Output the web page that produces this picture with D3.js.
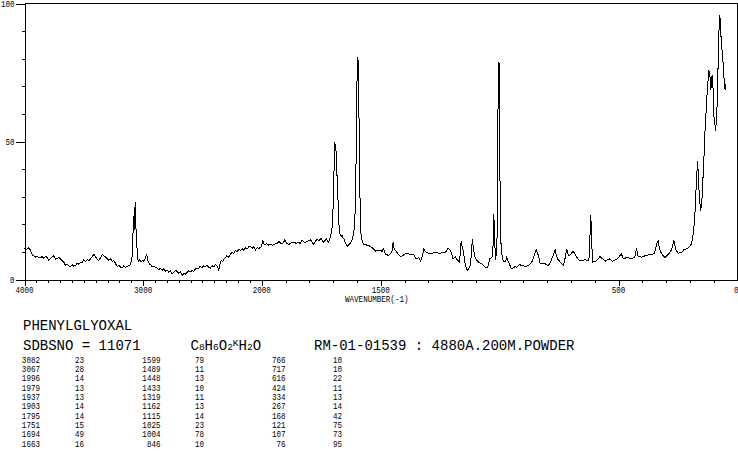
<!DOCTYPE html>
<html>
<head>
<meta charset="utf-8">
<script src="https://cdn.jsdelivr.net/npm/d3@7"></script>
<style>
  html, body { margin: 0; padding: 0; background: #fff; }
  svg { display: block; }
</style>
</head>
<body>
<script>
// ---------------- DATA ----------------
const spectrum = [
[4000,11.5],[3990,10.8],[3977,11.1],[3963,11.5],[3949,10.5],[3935,8.9],[3921,8.6],[3907,8.1],[3893,8.4],[3879,7.8],
[3865,7.9],[3851,8.3],[3837,7.6],[3823,8.4],[3809,8.0],[3795,6.9],[3781,7.6],[3767,8.1],[3753,8.6],[3738,7.4],
[3724,7.5],[3710,8.2],[3696,7.3],[3682,6.9],[3668,6.2],[3654,5.1],[3640,5.6],[3626,4.9],[3612,4.7],[3598,5.4],
[3584,4.8],[3570,5.1],[3556,5.9],[3542,5.5],[3528,6.3],[3514,6.0],[3500,7.1],[3486,6.6],[3472,7.2],[3458,6.8],
[3444,7.5],[3430,8.3],[3416,9.1],[3405,8.5],[3393,7.7],[3383,7.2],[3374,6.9],[3360,7.8],[3345,9.1],[3331,8.6],
[3317,8.1],[3303,7.6],[3290,6.9],[3276,7.5],[3261,6.6],[3247,6.9],[3233,5.8],[3219,4.7],[3205,5.1],[3191,4.5],
[3177,4.2],[3163,5.0],[3149,4.4],[3135,4.7],[3121,5.1],[3107,5.4],[3095,7.5],[3088,12],[3082,23],[3078,17],
[3073,22],[3067,28],[3062,20],[3056,15],[3050,9.9],[3043,7.0],[3037,6.6],[3027,7.2],[3017,6.3],[3006,7.0],
[2995,6.6],[2983,7.5],[2972,9.3],[2965,8.0],[2958,6.6],[2945,5.6],[2934,5.2],[2924,4.7],[2910,4.9],[2896,4.3],
[2882,4.2],[2868,3.6],[2854,4.0],[2840,3.3],[2826,3.9],[2812,3.0],[2797,3.3],[2783,2.6],[2769,3.1],[2755,2.1],
[2741,2.7],[2727,3.3],[2713,2.9],[2699,2.2],[2685,2.8],[2671,1.4],[2657,2.3],[2643,2.0],[2629,2.6],[2615,3.2],
[2601,2.8],[2587,3.3],[2573,3.0],[2559,3.8],[2545,3.9],[2531,4.1],[2520,4.7],[2506,4.3],[2490,5.0],[2475,4.7],
[2461,5.1],[2447,4.4],[2433,4.1],[2419,5.0],[2405,4.6],[2390,5.4],[2376,4.8],[2363,3.5],[2352,5.6],[2342,6.9],
[2330,6.5],[2318,7.6],[2306,7.9],[2294,8.6],[2280,8.1],[2264,9.3],[2250,9.9],[2236,9.4],[2222,10.5],[2208,10.1],
[2194,10.9],[2180,10.5],[2166,11.2],[2152,10.6],[2138,11.5],[2124,11.0],[2110,11.8],[2095,12.0],[2081,11.3],[2067,11.9],
[2053,10.8],[2039,11.6],[2025,11.2],[2011,11.7],[2003,11.9],[1996,14.0],[1990,12.8],[1984,12.7],[1979,13.0],[1972,12.5],
[1963,12.7],[1955,12.4],[1948,12.8],[1937,13.0],[1928,13.8],[1921,13.1],[1915,12.9],[1909,13.4],[1903,14.4],[1896,13.2],
[1886,12.7],[1876,13.3],[1866,13.5],[1855,13.1],[1844,13.5],[1838,13.0],[1831,14.4],[1824,13.6],[1817,13.5],[1806,13.9],
[1795,14.4],[1788,13.4],[1782,12.7],[1775,13.8],[1768,14.7],[1760,13.9],[1751,15.0],[1745,14.0],[1740,13.5],[1734,14.2],
[1729,14.7],[1724,14.0],[1719,13.5],[1714,14.6],[1709,16.6],[1705,18.5],[1702,22.6],[1699,29.0],[1697,35.9],[1695,46.0],
[1694,49.7],[1691,48.5],[1688,46.7],[1685,40.0],[1681,32.2],[1678,25.0],[1675,19.0],[1671,16.5],[1666,15.5],[1663,16.0],
[1658,15.0],[1653,14.4],[1647,13.0],[1641,12.0],[1635,12.6],[1627,13.2],[1620,14.5],[1613,17.1],[1608,24.0],[1605,35.9],
[1602,52.2],[1600,68.0],[1599,80.5],[1596,80.0],[1593,76.9],[1591,55.0],[1589,38.3],[1586,25.0],[1583,16.6],[1578,14.0],
[1571,12.7],[1560,12.5],[1550,12.3],[1543,11.9],[1536,11.5],[1530,11.0],[1523,10.3],[1512,10.6],[1501,10.5],[1494,10.2],
[1489,11.1],[1485,10.5],[1481,9.3],[1474,9.0],[1467,8.7],[1460,9.3],[1453,9.9],[1448,13.5],[1444,11.5],[1439,10.5],
[1433,10.0],[1425,9.1],[1420,8.6],[1415,8.1],[1408,8.6],[1401,9.1],[1392,9.5],[1383,9.3],[1373,9.0],[1364,9.3],
[1358,8.7],[1354,7.5],[1347,7.6],[1340,7.9],[1333,6.6],[1326,8.1],[1319,11.1],[1313,10.3],[1308,9.9],[1300,9.5],
[1291,9.3],[1280,9.6],[1270,9.9],[1260,9.6],[1249,9.5],[1238,9.8],[1228,9.9],[1222,10.5],[1217,11.5],[1212,11.0],
[1207,10.5],[1201,9.0],[1196,7.5],[1191,7.8],[1186,8.1],[1181,7.4],[1176,6.9],[1169,6.3],[1165,10.0],[1162,13.9],
[1158,12.0],[1152,9.9],[1148,7.5],[1145,5.7],[1140,4.0],[1135,3.3],[1130,3.8],[1124,5.1],[1119,9.0],[1115,14.7],
[1111,12.0],[1107,9.5],[1103,8.1],[1096,7.0],[1089,6.3],[1082,6.0],[1074,5.7],[1067,5.0],[1060,4.5],[1055,4.3],
[1051,4.2],[1046,5.8],[1042,7.5],[1037,7.8],[1032,8.1],[1028,12.0],[1025,23.8],[1023,20.0],[1021,15.3],[1019,10.0],
[1017,6.9],[1014,10.0],[1011,15.3],[1008,40.0],[1006,78.2],[1004,78.5],[1002,78.2],[999,40.0],[996,15.3],[992,10.0],
[988,7.5],[982,6.6],[977,6.3],[973,7.2],[970,8.1],[965,6.8],[959,5.7],[954,4.5],[949,3.9],[942,4.2],
[935,4.7],[928,4.4],[921,5.1],[914,5.4],[907,4.9],[900,5.2],[893,4.5],[886,4.9],[879,5.1],[872,5.7],
[865,6.3],[860,7.4],[855,8.7],[850,10.0],[846,10.8],[842,9.8],[837,8.7],[833,7.0],[830,5.7],[820,5.9],
[809,5.7],[802,5.3],[795,5.1],[788,6.0],[781,7.5],[774,9.0],[767,10.8],[762,9.0],[757,7.5],[751,7.0],
[745,6.3],[738,5.6],[732,5.1],[728,6.5],[724,8.1],[720,10.0],[717,10.8],[713,9.5],[710,8.7],[705,8.9],
[700,9.3],[696,9.8],[692,10.3],[687,9.7],[682,9.1],[675,8.0],[668,7.1],[661,6.9],[655,6.9],[648,7.0],
[641,7.1],[634,7.0],[627,6.9],[622,8.5],[620,16.6],[617,23.2],[614,17.8],[611,9.0],[609,6.3],[604,6.4],
[598,6.6],[591,7.0],[585,7.5],[578,8.3],[572,7.8],[566,7.5],[560,7.0],[553,6.6],[546,7.2],[539,7.5],
[532,7.0],[525,6.6],[518,7.0],[511,7.1],[505,7.6],[498,8.1],[493,8.8],[489,9.5],[484,8.3],[480,7.5],
[472,7.7],[465,8.1],[457,7.8],[450,7.5],[443,7.7],[436,7.9],[430,8.5],[427,10.0],[424,11.5],[421,9.5],
[418,8.3],[410,8.2],[403,8.1],[394,8.4],[385,8.7],[376,8.9],[368,9.1],[360,9.2],[351,9.3],[347,10.3],
[343,11.7],[339,13.0],[334,14.1],[331,12.8],[329,11.5],[324,10.3],[319,9.3],[312,8.6],[305,7.9],[298,8.5],
[291,9.1],[284,9.9],[277,10.8],[272,12.5],[267,14.1],[263,12.3],[259,10.8],[254,10.1],[249,9.5],[242,9.7],
[235,9.9],[230,10.3],[225,10.8],[218,11.0],[211,11.1],[204,11.7],[197,12.3],[192,13.5],[188,15.3],[183,19.0],
[179,23.8],[176,28.5],[174,33.4],[171,38.0],[168,42.9],[165,38.3],[163,34.5],[161,31.0],[158,27.5],[155,25.0],
[152,27.0],[149,29.8],[146,35.0],[143,40.7],[139,48.0],[136,55.2],[132,61.0],[128,67.3],[124,72.0],[121,75.7],
[119,75.5],[117,75.1],[114,71.5],[112,68.5],[110,71.0],[107,73.9],[104,73.3],[102,66.0],[100,60.0],[96,57.0],
[92,54.0],[88,59.0],[85,64.9],[82,76.0],[79,86.6],[76,95.7],[74,95.0],[72,93.8],[70,89.5],[68,85.4],
[65,83.0],[62,80.5],[59,76.0],[56,72.1],[54,70.5],[52,68.7],[49,70.9]
];

const xTickLabels = [4000, 3000, 2000, 1500, 500, 0];
const xMinorTicks = d3.range(4000, -1, -100);
const yTickLabels = [0, 50, 100];
const yMinorTicks = d3.range(0, 101, 10);
const xTitle = "WAVENUMBER(-1)";

const compoundName = "PHENYLGLYOXAL";
const sdbsNo = "SDBSNO = 11071";
const formulaParts = [["C",0],["8",1],["H",0],["6",1],["O",0],["2",1],["K",2],["H",0],["2",1],["O",0]];
const methodText = "RM-01-01539 : 4880A.200M.POWDER";

const peakWn  = [3082,3067,1996,1979,1937,1903,1795,1751,1694,1663,
                 1599,1489,1448,1433,1319,1162,1115,1025,1004,846,
                 766,717,616,424,334,267,168,121,107,76];
const peakInt = [23,28,14,13,13,14,14,15,49,16,
                 79,11,13,10,11,13,14,23,78,10,
                 10,10,22,11,13,14,42,75,73,95];

// ---------------- CHART ----------------
const W = 738, H = 457;
const svg = d3.select("body").append("svg").attr("width", W).attr("height", H);

const x = d3.scaleLinear().domain([4000, 2000, 0]).range([24.5, 261.8, 737.5]);
const y = d3.scaleLinear().domain([0, 100]).range([279.5, 3.5]);

const MONO = "'Liberation Mono', 'DejaVu Sans Mono', monospace";
function smallText(g, str, px, py, anchor) {
  return g.append("text")
    .attr("transform", `translate(${px},${py}) scale(0.87,1)`)
    .attr("text-anchor", anchor || "start")
    .attr("font-family", MONO)
    .attr("font-size", 8.7)
    .attr("fill", "#000")
    .text(str);
}

// frame
const frame = svg.append("g").attr("stroke", "#000").attr("stroke-width", 1)
  .attr("shape-rendering", "crispEdges").attr("fill", "none");
frame.append("line").attr("x1", x(4000)).attr("x2", x(0)).attr("y1", y(100)).attr("y2", y(100));
frame.append("line").attr("x1", x(0)).attr("x2", x(0)).attr("y1", y(100)).attr("y2", y(0));

// x axis
const xMinor = svg.append("g").attr("transform", `translate(0,${y(0)})`)
  .call(d3.axisBottom(x).tickValues(xMinorTicks).tickSize(3).tickSizeOuter(0).tickFormat(""));
const xMajor = svg.append("g").attr("transform", `translate(0,${y(0)})`)
  .call(d3.axisBottom(x).tickValues(xTickLabels).tickSize(6).tickSizeOuter(0).tickFormat(""));
// y axis
const yMinor = svg.append("g").attr("transform", `translate(${x(4000)},0)`)
  .call(d3.axisLeft(y).tickValues(yMinorTicks).tickSize(3).tickSizeOuter(0).tickFormat(""));
const yMajor = svg.append("g").attr("transform", `translate(${x(4000)},0)`)
  .call(d3.axisLeft(y).tickValues(yTickLabels).tickSize(9).tickSizeOuter(0).tickFormat(""));

[xMinor, xMajor, yMinor, yMajor].forEach(g => {
  g.selectAll("path, line").attr("stroke", "#000").attr("shape-rendering", "crispEdges");
});

// tick labels
const labels = svg.append("g");
xTickLabels.forEach(v => {
  const anchor = v === 0 ? "end" : "middle";
  const px = v === 0 ? x(v) + 1 : x(v);
  smallText(labels, String(v), px, 292.5, anchor);
});
yTickLabels.forEach(v => {
  smallText(labels, String(v), 14.5, y(v) + 3, "end");
});
smallText(labels, xTitle, 345, 301.5, "start");

// spectrum
const line = d3.line().x(d => x(d[0])).y(d => y(d[1]));
svg.append("path").datum(spectrum)
  .attr("d", line)
  .attr("fill", "none")
  .attr("stroke", "#000")
  .attr("stroke-width", 1)
  .attr("shape-rendering", "crispEdges");

// header text
const BIG = 14;
const hdr = svg.append("g").attr("font-family", MONO).attr("fill", "#000");
hdr.append("text").attr("x", 23).attr("y", 330).attr("font-size", BIG).text(compoundName);
hdr.append("text").attr("x", 23).attr("y", 350).attr("font-size", BIG).attr("xml:space", "preserve").text(sdbsNo);
const f = hdr.append("text").attr("x", 190.5).attr("y", 350).attr("font-size", BIG);
formulaParts.forEach(([t, kind], i) => {
  const ts = f.append("tspan").text(t);
  const prev = i > 0 ? formulaParts[i - 1][1] : 0;
  if (kind === 0) ts.attr("font-size", BIG);
  if (kind === 1) ts.attr("font-size", 9.5);
  if (kind === 2) ts.attr("font-size", 9.5).attr("dy", -4.5);
  if (prev === 2 && kind !== 2) ts.attr("dy", 4.5);
});
hdr.append("text").attr("x", 314).attr("y", 350).attr("font-size", BIG).attr("xml:space", "preserve").text(methodText);

// peak table
const tbl = svg.append("g");
const colRight = [40, 160.5, 285.5];
const colLeft = [75, 195, 333];
peakWn.forEach((wn, i) => {
  const col = Math.floor(i / 10), row = i % 10;
  const py = 362.5 + row * 9.35;
  smallText(tbl, String(wn), colRight[col], py, "end");
  smallText(tbl, String(peakInt[i]), colLeft[col], py, "start");
});
</script>
</body>
</html>
